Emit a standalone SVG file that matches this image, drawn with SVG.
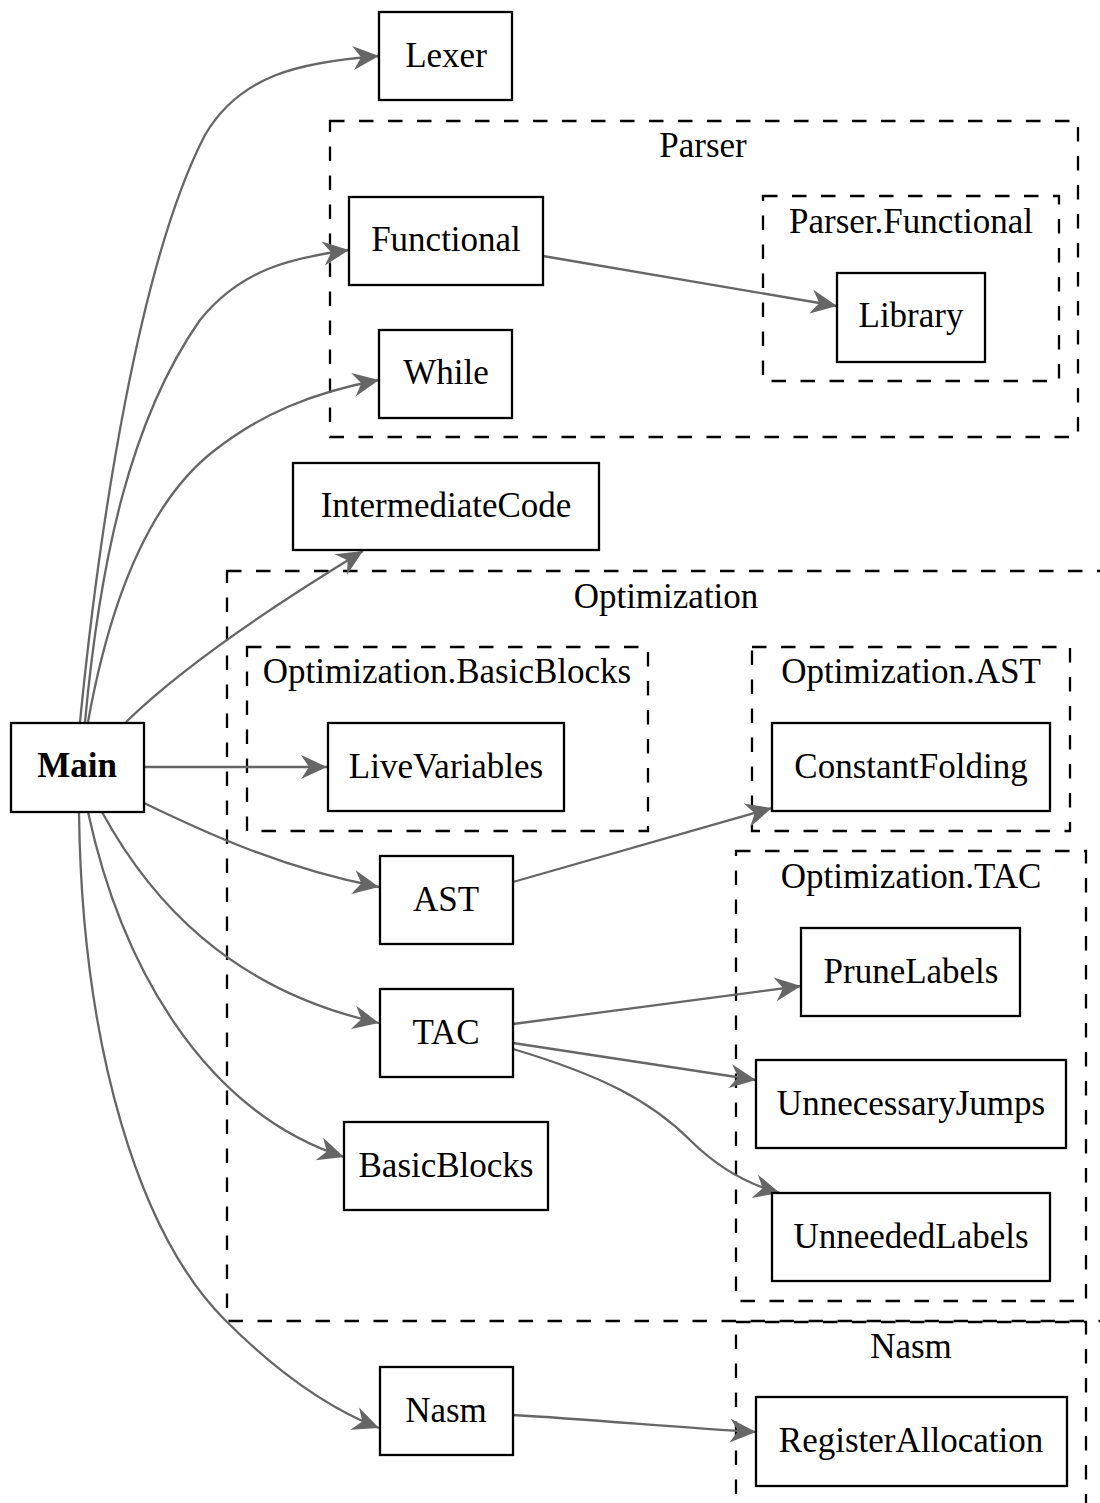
<svg xmlns="http://www.w3.org/2000/svg" width="1100" height="1503" viewBox="0 0 1100 1503">
<defs>
<style>
.node rect{fill:#ffffff;stroke:#000000;stroke-width:2.3}
.cluster rect{fill:none;stroke:#000000;stroke-width:2.3;stroke-dasharray:14.5,14.5}
text{font-family:"Liberation Serif","Times New Roman",serif;font-size:35px;fill:#000000;text-anchor:middle}
.bold{font-weight:bold}
.edges path{fill:none;stroke:#666666;stroke-width:2.3;marker-end:url(#vee)}
</style>
<marker id="vee" markerUnits="userSpaceOnUse" markerWidth="30" markerHeight="28" viewBox="-28 -14 30 28" refX="0" refY="0" orient="auto">
<path d="M0,0 L-26,-12 L-18,0 L-26,12 Z" fill="#666666" stroke="none"/>
</marker>
</defs>
<rect x="0" y="0" width="1100" height="1503" fill="#ffffff"/>

<g id="clusters">
<g id="cluster_Parser" class="cluster"><rect x="330" y="121" width="748" height="316"/><text x="703" y="157">Parser</text></g>
<g id="cluster_ParserFunctional" class="cluster"><rect x="763" y="196" width="296" height="185"/><text x="911" y="233">Parser.Functional</text></g>
<g id="cluster_Optimization" class="cluster"><rect x="227" y="571" width="880" height="750"/><text x="666" y="608">Optimization</text></g>
<g id="cluster_OptBasicBlocks" class="cluster"><rect x="247" y="647" width="401" height="184"/><text x="447" y="683">Optimization.BasicBlocks</text></g>
<g id="cluster_OptAST" class="cluster"><rect x="752" y="647" width="318" height="184"/><text x="911" y="683">Optimization.AST</text></g>
<g id="cluster_OptTAC" class="cluster"><rect x="736" y="851" width="350" height="450"/><text x="911" y="888">Optimization.TAC</text></g>
<g id="cluster_Nasm" class="cluster"><rect x="736" y="1322" width="350" height="200"/><text x="911" y="1358">Nasm</text></g>
</g>

<g class="edges" id="edges">
<path d="M80,722 C100,520 140,260 205,135 C240,75 300,62 379,56"/>
<path d="M85,722 C100,560 130,420 200,320 C240,270 290,258 349,250"/>
<path d="M88,722 C110,600 150,500 215,450 C260,415 310,393 379,380"/>
<path d="M126,722 Q200,650 363,551"/>
<path d="M144,767 L327,767"/>
<path d="M144,803 C200,830 280,868 379,887"/>
<path d="M102,812 C150,900 230,990 379,1023"/>
<path d="M88,812 C120,960 200,1110 344,1157"/>
<path d="M79,812 C82,1050 140,1235 225,1320 C270,1365 320,1405 379,1428"/>
<path d="M543,256 L837,306"/>
<path d="M513,882 L772,808"/>
<path d="M513,1024 L801,986"/>
<path d="M513,1043 L756,1080"/>
<path d="M513,1049 C600,1075 650,1100 690,1140 C720,1170 750,1185 780,1193"/>
<path d="M513,1415 C600,1420 680,1428 756,1432"/>
</g>

<g id="node_Main" class="node"><rect x="11" y="723" width="133" height="89"/><text class="bold" x="77" y="777">Main</text></g>
<g id="node_Lexer" class="node"><rect x="379" y="12" width="133" height="88"/><text x="446" y="67">Lexer</text></g>
<g id="node_Functional" class="node"><rect x="349" y="197" width="194" height="88"/><text x="446" y="251">Functional</text></g>
<g id="node_While" class="node"><rect x="379" y="330" width="133" height="88"/><text x="446" y="384">While</text></g>
<g id="node_Library" class="node"><rect x="837" y="273" width="148" height="89"/><text x="911" y="327">Library</text></g>
<g id="node_IntermediateCode" class="node"><rect x="293" y="463" width="306" height="87"/><text x="446" y="517">IntermediateCode</text></g>
<g id="node_LiveVariables" class="node"><rect x="328" y="723" width="236" height="88"/><text x="446" y="778">LiveVariables</text></g>
<g id="node_ConstantFolding" class="node"><rect x="772" y="723" width="278" height="88"/><text x="911" y="778">ConstantFolding</text></g>
<g id="node_AST" class="node"><rect x="380" y="856" width="133" height="88"/><text x="446" y="911">AST</text></g>
<g id="node_TAC" class="node"><rect x="380" y="989" width="133" height="88"/><text x="446" y="1044">TAC</text></g>
<g id="node_PruneLabels" class="node"><rect x="801" y="928" width="219" height="88"/><text x="911" y="983">PruneLabels</text></g>
<g id="node_UnnecessaryJumps" class="node"><rect x="756" y="1060" width="310" height="88"/><text x="911" y="1115">UnnecessaryJumps</text></g>
<g id="node_BasicBlocks" class="node"><rect x="344" y="1122" width="204" height="88"/><text x="446" y="1177">BasicBlocks</text></g>
<g id="node_UnneededLabels" class="node"><rect x="772" y="1193" width="278" height="88"/><text x="911" y="1248">UnneededLabels</text></g>
<g id="node_Nasm" class="node"><rect x="380" y="1367" width="133" height="88"/><text x="446" y="1422">Nasm</text></g>
<g id="node_RegisterAllocation" class="node"><rect x="756" y="1397" width="311" height="89"/><text x="911" y="1452">RegisterAllocation</text></g>
</svg>
